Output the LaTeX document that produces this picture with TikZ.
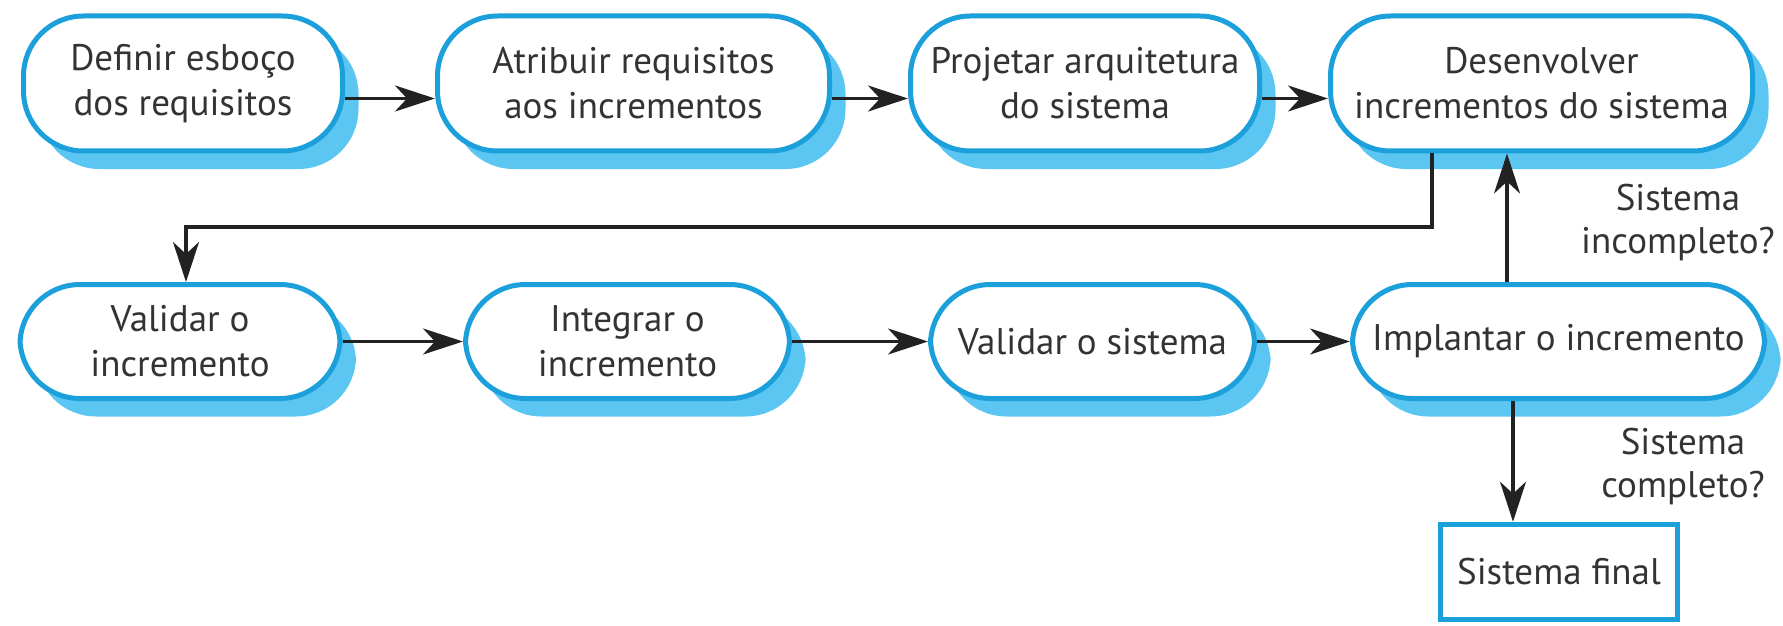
\documentclass[tikz,border=0pt]{standalone}
\usepackage{fontspec}
\setmainfont{PT Sans}
\usetikzlibrary{shadows,arrows.meta,calc}
\definecolor{bord}{HTML}{1BA0DC}
\definecolor{shad}{HTML}{5CC6F2}
\definecolor{txt}{HTML}{333333}
\definecolor{arrc}{HTML}{222222}
\begin{document}
\begin{tikzpicture}[x=0.5pt,y=-0.5pt,
  proc/.style={draw=bord, line width=2.5pt, fill=white, rounded corners=30pt,
    align=center, text=txt, font=\fontsize{18.5}{22.5}\selectfont, inner sep=0pt,
    general shadow={fill=shad, shadow xshift=8pt, shadow yshift=-9pt}},
  row1/.style={proc, minimum height=67.5pt},
  row2/.style={proc, minimum height=57pt},
  finbox/.style={draw=bord, line width=2.8pt, fill=white, align=center, text=txt,
    font=\fontsize{18.5}{22.5}\selectfont, inner sep=0pt, minimum width=118.5pt, minimum height=47.5pt},
  lbl/.style={align=center, text=txt, font=\fontsize{18.5}{21.5}\selectfont, inner sep=0pt},
  arr/.style={draw=arrc, line width=1.6pt, -{Stealth[length=20pt,width=13pt,inset=6pt]}}]
\useasboundingbox (0,0) rectangle (1783,626);
\node[row1, minimum width=159.5pt] (b1) at (183,83.5) {Definir esboço\\dos requisitos};
\node[row1, minimum width=196pt] (b2) at (633.5,83.5) {Atribuir requisitos\\aos incrementos};
\node[row1, minimum width=174.5pt] (b3) at (1085,83.5) {Projetar arquitetura\\do sistema};
\node[row1, minimum width=211pt] (b4) at (1541.5,83.5) {Desenvolver\\incrementos do sistema};
\node[row2, minimum width=160pt] (b5) at (180,341.5) {Validar o\\incremento};
\node[row2, minimum width=162pt] (b6) at (627.5,341.5) {Integrar o\\incremento};
\node[row2, minimum width=162pt] (b7) at (1092.5,341.5) {Validar o sistema};
\node[row2, minimum width=206pt] (b8) at (1558.5,341.5) {Implantar o incremento};
\node[finbox] (fin) at (1559,572) {Sistema final};
\node[lbl] (linc) at (1678,223) {Sistema\\incompleto?};
\node[lbl] (lcomp) at (1683,467) {Sistema\\completo?};
\coordinate (lx) at (1432,0);
\coordinate (vx) at (186,0);
\coordinate (ly) at (0,227);
\coordinate (upx) at (1507,0);
\coordinate (dnx) at (1513,0);
\draw[arr] ($(b1.east)+(0,15)$) -- ($(b2.west)+(0,15)$);
\draw[arr] ($(b2.east)+(0,15)$) -- ($(b3.west)+(0,15)$);
\draw[arr] ($(b3.east)+(0,15)$) -- ($(b4.west)+(0,15)$);
\draw[arr] (b4.south -| lx) |- (ly -| vx) -- (b5.north -| vx);
\draw[arr] (b5.east) -- (b6.west);
\draw[arr] (b6.east) -- (b7.west);
\draw[arr] (b7.east) -- (b8.west);
\draw[arr] (b8.north -| upx) -- (b4.south -| upx);
\draw[arr] (b8.south -| dnx) -- (fin.north -| dnx);
\end{tikzpicture}
\end{document}
